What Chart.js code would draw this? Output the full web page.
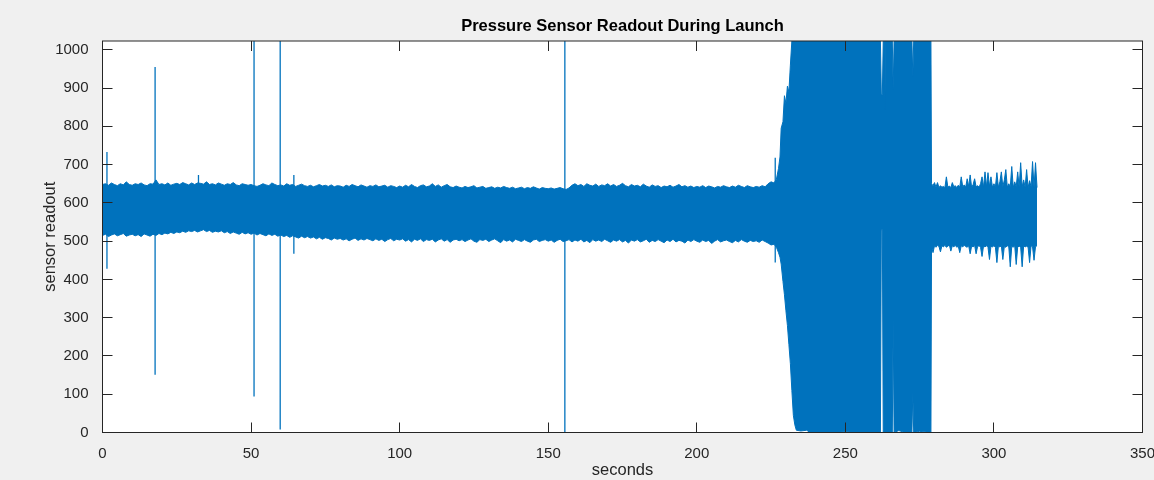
<!DOCTYPE html>
<html>
<head>
<meta charset="utf-8">
<script src="https://cdn.jsdelivr.net/npm/chart.js@4/dist/chart.umd.min.js"></script>
<style>
  html, body { margin: 0; padding: 0; background: #f0f0f0; }
  #wrap { width: 1154px; height: 480px; }
</style>
</head>
<body>
<div id="wrap"><canvas id="plot"></canvas></div>
<script>
// axis ticks
var xTicks = [0, 50, 100, 150, 200, 250, 300, 350];
var yTicks = [0, 100, 200, 300, 400, 500, 600, 700, 800, 900, 1000];

// cruise part, one sample per second from t = 0 to 225 (band top / bottom)
var cruiseStart = 0, cruiseStep = 1;
var cruiseUpper = [
  648,650,646,652,648,645,650,647,655,648,
  646,650,648,652,647,645,650,649,660,648,
  650,647,652,646,649,651,648,653,650,647,
  652,648,652,651,649,655,648,650,647,652,
  649,646,650,648,653,647,645,650,648,646,
  648,645,643,646,650,647,645,652,648,645,
  647,644,650,646,648,643,646,649,645,643,
  646,642,645,648,644,646,643,647,642,645,
  644,641,646,643,648,645,642,647,644,641,
  645,643,647,642,644,646,641,645,643,640,
  644,641,646,642,648,643,640,645,647,642,
  644,650,643,647,641,645,648,642,640,644,
  641,639,643,640,642,645,639,641,643,638,
  640,642,638,641,639,643,640,638,641,637,
  639,641,637,640,638,642,639,636,640,638,
  637,639,636,638,640,637,635,639,646,650,
  645,648,643,650,646,644,649,643,647,645,
  650,644,648,643,646,651,645,642,648,644,
  646,642,649,644,641,647,643,645,640,644,
  642,646,641,644,648,642,645,641,644,640,
  643,641,645,640,644,642,639,643,641,645,
  642,640,644,641,646,643,640,645,642,640,
  643,641,645,642,650,655
];
var cruiseLower = [
  515,518,512,516,519,514,517,520,513,516,
  518,514,517,512,519,516,513,518,515,520,
  517,521,519,523,520,524,522,526,523,527,
  525,528,524,527,530,525,528,523,526,524,
  527,522,525,520,524,521,518,523,519,522,
  518,521,516,520,517,514,519,515,518,513,
  516,512,515,510,514,511,508,513,509,512,
  508,511,506,510,505,509,507,503,508,505,
  507,503,506,501,505,508,502,506,503,507,
  504,501,506,502,505,499,504,507,501,505,
  503,506,500,504,498,505,502,506,499,504,
  502,505,498,503,506,500,504,497,503,505,
  501,504,499,503,506,500,497,504,502,505,
  499,503,506,501,496,504,500,503,498,505,
  502,499,504,500,497,503,505,499,502,504,
  500,503,497,502,505,499,501,504,498,503,
  500,505,498,502,496,504,500,503,499,505,
  501,497,503,500,504,498,502,495,503,500,
  504,498,501,505,497,502,499,504,500,496,
  503,499,505,498,502,500,495,503,499,504,
  500,497,503,499,502,494,500,504,498,501,
  503,499,496,502,498,504,500,497,502,499,
  501,497,503,499,495,490
];

// launch part, irregular sample times
var launchSeconds = [226, 226.8, 227.5, 228, 228.4, 229, 229.5, 230, 230.5, 231, 231.5, 232, 232.5, 233, 233.5,
  235, 237, 238, 245, 250, 255, 261.8, 262.1, 262.45, 262.75, 263.1, 263.3, 263.5,
  265.8, 266.1, 266.4, 268, 270, 272.4, 272.7, 273, 275, 278.8];
var launchUpper = [652, 662, 690, 720, 795, 812, 880, 860, 905, 890, 960, 1023, 1023, 1023, 1023,
  1023, 1023, 1023, 1023, 1023, 1023, 1023, 883, 883, 1023, 1023, 843, 1023,
  1023, 896, 1023, 1023, 1023, 1023, 930, 1023, 1023, 1023];
var launchLower = [492, 484, 470, 458, 440, 395, 360, 318, 280, 230, 180, 110, 45, 20, 6,
  4, 6, 0, 0, 2, 0, 0, 530, 530, 0, 0, 0, 0,
  0, 295, 0, 5, 0, 0, 104, 0, 3, 0];

// after burnout, two samples per second from t = 279 to 314.5
var tailStart = 279, tailStep = 0.5;
var tailUpper = [
  650,645,653,641,653,640,645,641,643,640,
  668,641,644,640,653,642,645,640,646,641,
  668,642,647,641,663,643,673,640,648,663,
  642,645,641,650,668,641,681,642,679,643,
  668,641,650,642,679,641,655,681,642,660,
  687,641,650,642,695,640,655,642,681,641,
  705,642,660,641,687,640,658,642,708,641,
  705,640
];
var tailLower = [
  485,470,488,484,489,486,472,488,485,489,
  484,487,490,474,488,485,489,484,487,470,
  488,485,489,486,484,488,467,487,485,489,
  467,486,488,484,460,487,485,488,484,452,
  487,485,488,484,444,487,485,488,452,486,
  484,488,485,433,487,484,488,439,485,487,
  484,433,488,485,487,484,444,488,485,450,
  486,488
];

// single-sample glitches
var spikeSeconds = [1.5, 17.7, 32.3, 51.0, 59.8, 64.4, 155.6, 226.4];
var spikeLow     = [428, 151, 600, 94, 8, 467, 0, 444];
var spikeHigh    = [733, 955, 673, 1023, 1023, 673, 1023, 718];

var blue = 'rgb(0,114,189)';

function series(upperOrLower) {
  var pts = [], i;
  var c = upperOrLower === 'up' ? cruiseUpper : cruiseLower;
  var l = upperOrLower === 'up' ? launchUpper : launchLower;
  var t = upperOrLower === 'up' ? tailUpper : tailLower;
  for (i = 0; i < c.length; i++) pts.push({x: cruiseStart + i * cruiseStep, y: c[i]});
  for (i = 0; i < l.length; i++) pts.push({x: launchSeconds[i], y: l[i]});
  for (i = 0; i < t.length; i++) pts.push({x: tailStart + i * tailStep, y: t[i]});
  return pts;
}

var spikePts = [];
spikeSeconds.forEach(function (s, i) {
  spikePts.push({x: s, y: spikeLow[i]});
  spikePts.push({x: s, y: spikeHigh[i]});
  spikePts.push({x: s, y: null});
});

var frame = {
  id: 'frame',
  beforeDraw: function (chart) {
    var ctx = chart.ctx, a = chart.chartArea;
    ctx.save();
    ctx.fillStyle = '#f0f0f0';
    ctx.fillRect(0, 0, chart.width, chart.height);
    ctx.fillStyle = '#ffffff';
    ctx.fillRect(a.left, a.top, a.right - a.left, a.bottom - a.top);
    ctx.restore();
  },
  afterDraw: function (chart) {
    var ctx = chart.ctx, a = chart.chartArea;
    var xs = chart.scales.x, ys = chart.scales.y;
    ctx.save();
    ctx.strokeStyle = '#262626';
    ctx.lineWidth = 1;
    ctx.beginPath();
    xTicks.forEach(function (v) {
      var px = Math.floor(xs.getPixelForValue(v)) + 0.5;
      ctx.moveTo(px, a.bottom); ctx.lineTo(px, a.bottom - 10);
      ctx.moveTo(px, a.top); ctx.lineTo(px, a.top + 10);
    });
    yTicks.forEach(function (v) {
      var py = Math.floor(ys.getPixelForValue(v)) + 0.5;
      ctx.moveTo(a.left, py); ctx.lineTo(a.left + 10, py);
      ctx.moveTo(a.right, py); ctx.lineTo(a.right - 10, py);
    });
    ctx.stroke();
    ctx.strokeRect(a.left, a.top, a.right - a.left, a.bottom - a.top);
    ctx.restore();
  }
};

var font = 'Arial, "Liberation Sans", Helvetica, sans-serif';
var plain = function (v) { return String(v); };

new Chart(document.getElementById('plot'), {
  type: 'line',
  data: {
    datasets: [
      { data: series('up'), borderColor: blue, backgroundColor: blue, borderWidth: 1,
        pointRadius: 0, fill: '+1', tension: 0 },
      { data: series('down'), borderColor: blue, backgroundColor: blue, borderWidth: 1,
        pointRadius: 0, fill: false, tension: 0 },
      { data: spikePts, borderColor: blue, borderWidth: 1.3, pointRadius: 0,
        fill: false, spanGaps: false, tension: 0 }
    ]
  },
  options: {
    responsive: true,
    maintainAspectRatio: false,
    animation: false,
    events: [],
    layout: { padding: { left: 0, right: 11.5, top: 0, bottom: 0 } },
    plugins: {
      legend: { display: false },
      tooltip: { enabled: false },
      title: {
        display: true,
        fullSize: false,
        text: 'Pressure Sensor Readout During Launch',
        color: '#000',
        font: { family: font, size: 16.5, weight: 'bold', lineHeight: 1.2 },
        padding: { top: 16.5, bottom: 4.7 }
      }
    },
    scales: {
      x: {
        type: 'linear', min: 0, max: 350,
        grid: { display: false }, border: { display: false },
        afterBuildTicks: function (s) { s.ticks = xTicks.map(function (v) { return {value: v}; }); },
        afterFit: function (s) { s.height = 47.5; s.paddingLeft = 0; s.paddingRight = 0; },
        ticks: { color: '#262626', font: { family: font, size: 15 }, padding: 4, maxRotation: 0,
          autoSkip: false, callback: plain },
        title: { display: true, text: 'seconds', color: '#262626',
          font: { family: font, size: 16.5, lineHeight: 1.2 }, padding: { top: 0.5, bottom: 0 } }
      },
      y: {
        type: 'linear', min: 0, max: 1023,
        grid: { display: false }, border: { display: false },
        afterBuildTicks: function (s) { s.ticks = yTicks.map(function (v) { return {value: v}; }); },
        afterFit: function (s) { s.width = 102.5; s.paddingTop = 0; s.paddingBottom = 0; },
        ticks: { color: '#262626', font: { family: font, size: 15 }, padding: 6, autoSkip: false,
          callback: plain },
        title: { display: true, text: 'sensor readout', color: '#262626',
          font: { family: font, size: 16.5, lineHeight: 1.2 }, padding: { top: 41, bottom: 0 } }
      }
    }
  },
  plugins: [frame]
});
</script>
</body>
</html>
